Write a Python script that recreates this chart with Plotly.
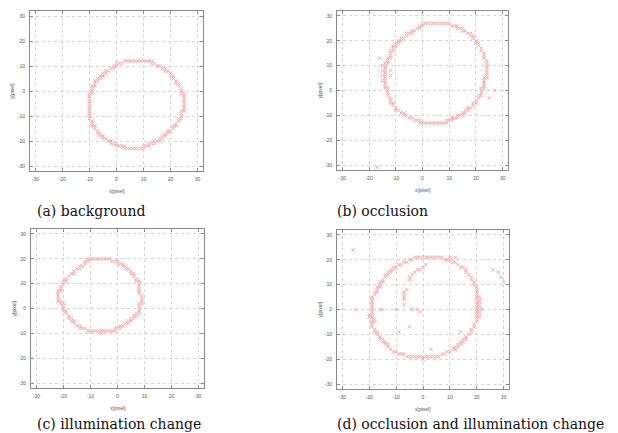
import plotly.graph_objects as go

# ---------------- data (integer pixel coordinates) ----------------
tick_values = [-30, -20, -10, 0, 10, 20, 30]
tick_labels = ["-30", "-20", "-10", "0", "10", "20", "30"]
captions = ["(a) background", "(b) occlusion", "(c) illumination change",
            "(d) occlusion and illumination change"]
x_title = "x[pixel]"
y_title = "y[pixel]"

points_a = [
    (0, 11), (1, 11), (2, 11), (3, 12), (4, 12), (5, 12), (6, 12), (7, 12), (8, 12), (9, 12), (10, 12),
    (11, 12), (12, 12), (13, 12), (13, 11), (14, 11), (15, 10), (16, 10), (17, 9), (18, 9), (18, 8),
    (19, 8), (20, 7), (20, 6), (21, 6), (21, 5), (22, 4), (22, 3), (23, 3), (23, 2), (24, 1), (24, 0),
    (24, -1), (25, -1), (25, -2), (25, -3), (25, -4), (25, -5), (25, -6), (25, -7), (25, -8), (24, -8),
    (24, -9), (24, -10), (24, -11), (23, -11), (23, -12), (22, -13), (22, -14), (21, -14), (21, -15),
    (20, -16), (19, -16), (19, -17), (18, -17), (18, -18), (17, -18), (17, -19), (16, -19), (16, -20),
    (15, -20), (14, -20), (14, -21), (13, -21), (12, -21), (12, -22), (11, -22), (10, -22), (10, -23),
    (9, -23), (8, -23), (7, -23), (6, -23), (5, -23), (4, -23), (3, -23), (3, -22), (2, -22), (1, -22),
    (0, -22), (0, -21), (-1, -21), (-2, -21), (-2, -20), (-3, -20), (-4, -19), (-5, -19), (-5, -18),
    (-6, -18), (-6, -17), (-7, -17), (-7, -16), (-8, -15), (-8, -14), (-9, -14), (-9, -13), (-9, -12),
    (-10, -11), (-10, -10), (-10, -9), (-10, -8), (-10, -7), (-10, -6), (-10, -5), (-10, -4), (-10, -3),
    (-10, -2), (-10, -1), (-9, -1), (-9, 0), (-9, 1), (-9, 2), (-8, 2), (-8, 3), (-8, 4), (-7, 4),
    (-7, 5), (-6, 5), (-6, 6), (-5, 6), (-5, 7), (-4, 7), (-4, 8), (-3, 8), (-2, 9), (-1, 9), (-1, 10),
    (0, 10),
]

points_b = [
    (0, 27), (1, 27), (2, 27), (3, 27), (4, 27), (5, 27), (6, 27), (7, 27), (8, 27), (9, 27), (10, 27),
    (11, 26), (12, 26), (13, 26), (13, 25), (14, 25), (15, 25), (15, 24), (16, 24), (17, 23), (18, 23),
    (18, 22), (19, 22), (19, 21), (20, 20), (20, 19), (21, 19), (21, 18), (22, 17), (22, 16), (23, 15),
    (23, 14), (23, 13), (24, 12), (24, 11), (24, 10), (24, 9), (24, 8), (24, 7), (24, 6), (24, 5),
    (23, 5), (23, 4), (23, 3), (23, 2), (23, 1), (22, 1), (22, 0), (22, -1), (22, -2), (21, -2),
    (21, -3), (20, -4), (20, -5), (19, -5), (19, -6), (18, -7), (17, -7), (17, -8), (16, -8), (16, -9),
    (15, -9), (15, -10), (14, -10), (13, -10), (13, -11), (12, -11), (11, -11), (11, -12), (10, -12),
    (9, -12), (9, -13), (8, -13), (7, -13), (6, -13), (5, -13), (4, -13), (3, -13), (2, -13), (1, -13),
    (0, -13), (-1, -13), (-1, -12), (-2, -12), (-3, -12), (-4, -11), (-5, -11), (-6, -10), (-7, -10),
    (-7, -9), (-8, -9), (-9, -8), (-10, -8), (-10, -7), (-11, -6), (-11, -5), (-12, -5), (-12, -4),
    (-12, -3), (-13, -2), (-13, -1), (-13, 0), (-13, 1), (-14, 1), (-14, 2), (-14, 3), (-14, 4),
    (-14, 5), (-14, 6), (-14, 7), (-14, 8), (-14, 9), (-14, 10), (-14, 11), (-13, 11), (-13, 12),
    (-13, 13), (-12, 13), (-12, 14), (-12, 15), (-12, 16), (-11, 16), (-11, 17), (-11, 18), (-10, 18),
    (-10, 19), (-9, 19), (-9, 20), (-8, 20), (-8, 21), (-7, 21), (-6, 22), (-6, 23), (-5, 23), (-4, 23),
    (-4, 24), (-3, 24), (-2, 25), (-1, 25), (-1, 26), (0, 26),
    # stray detections
    (-16, 13), (-15, 10), (-15, 8), (-15, 6), (-15, 4), (-12, 8), (-12, 6), (27, 0), (25, -3), (-17, -31),
]

points_c = [
    (-10, 20), (-9, 20), (-8, 20), (-7, 20), (-6, 20), (-5, 20), (-4, 20), (-3, 20), (-2, 19), (-1, 19),
    (0, 19), (0, 18), (1, 18), (2, 18), (2, 17), (3, 17), (3, 16), (4, 16), (5, 15), (5, 14), (6, 14),
    (6, 13), (7, 12), (7, 11), (8, 11), (8, 10), (8, 9), (8, 8), (8, 7), (8, 6), (9, 5), (9, 4), (9, 3),
    (9, 2), (8, 2), (8, 1), (8, 0), (8, -1), (8, -2), (7, -2), (7, -3), (6, -3), (6, -4), (5, -4),
    (5, -5), (4, -5), (4, -6), (3, -6), (2, -7), (1, -7), (1, -8), (0, -8), (-1, -8), (-1, -9), (-2, -9),
    (-3, -9), (-4, -9), (-5, -9), (-6, -9), (-6, -10), (-7, -9), (-8, -9), (-9, -9), (-10, -9),
    (-11, -9), (-12, -8), (-13, -8), (-14, -8), (-14, -7), (-15, -7), (-16, -6), (-16, -5), (-17, -5),
    (-17, -4), (-18, -4), (-18, -3), (-19, -2), (-19, -1), (-20, -1), (-20, 0), (-20, 1), (-20, 2),
    (-21, 2), (-21, 3), (-22, 3), (-22, 4), (-22, 5), (-22, 6), (-22, 7), (-21, 7), (-21, 8), (-21, 9),
    (-20, 10), (-20, 11), (-19, 11), (-19, 12), (-18, 13), (-17, 14), (-16, 14), (-16, 15), (-15, 16),
    (-14, 16), (-14, 17), (-13, 17), (-12, 18), (-12, 19), (-11, 19), (-11, 20),
]

points_d = [
    (-3, 21), (-2, 21), (-1, 21), (0, 21), (1, 21), (2, 21), (3, 21), (4, 21), (5, 21), (6, 21), (7, 21),
    (10, 21), (12, 21), (8, 20), (9, 20), (10, 20), (11, 19), (12, 19), (13, 18), (14, 17), (15, 17),
    (16, 16), (16, 15), (17, 14), (18, 13), (18, 12), (19, 11), (19, 10), (20, 9), (20, 8), (20, 7),
    (20, 6), (20, 5), (20, 4), (20, 3), (20, 2), (20, 1), (20, 0), (20, -1), (20, -2), (20, -3), (20, -4),
    (20, -5), (21, 5), (21, 4), (21, 3), (21, 2), (21, 1), (21, 0), (21, -1), (21, -2), (21, -3),
    (22, 0), (19, -6), (19, -7), (18, -8), (18, -9), (17, -10), (16, -11), (16, -12), (15, -12),
    (15, -13), (14, -13), (14, -14), (13, -14), (13, -15), (12, -15), (12, -16), (11, -16), (10, -17),
    (9, -17), (8, -18), (7, -18), (6, -19), (5, -19), (4, -19), (3, -19), (2, -19), (1, -19), (0, -19),
    (-1, -19), (-2, -19), (-3, -19), (-4, -19), (-5, -19), (-6, -19), (0, -20), (-7, -18), (-8, -18),
    (-9, -18), (-10, -17), (-11, -17), (-12, -16), (-13, -15), (-13, -14), (-14, -14), (-14, -13),
    (-15, -13), (-15, -12), (-16, -12), (-16, -11), (-17, -10), (-17, -9), (-18, -9), (-18, -8),
    (-19, -7), (-19, -6), (-19, -5), (-19, -4), (-19, -3), (-19, -2), (-19, -1), (-19, 0), (-19, 1),
    (-19, 2), (-19, 3), (-19, 4), (-19, 5), (-20, -2), (-20, -3), (-18, -5), (-18, -4), (-18, 6),
    (-18, 7), (-17, 7), (-17, 8), (-17, 9), (-16, 9), (-16, 10), (-16, 11), (-15, 11), (-15, 12),
    (-14, 13), (-14, 14), (-13, 14), (-13, 15), (-12, 15), (-12, 16), (-11, 16), (-11, 17), (-10, 17),
    (-9, 18), (-8, 18), (-7, 19), (-6, 19), (-5, 20), (-4, 20),
    # inner arc and stray detections
    (1, 18), (0, 17), (-1, 16), (-2, 16), (-3, 15), (-4, 14), (-5, 13), (-5, 12), (-6, 8), (-7, 7),
    (-7, 6), (-7, 5), (-7, 4), (-7, 2), (-26, 24), (-25, 0), (-16, 0), (-15, 0), (-10, 0), (-4, 0),
    (-2, 0), (-1, -1), (-9, -9), (-5, -7), (14, -9), (3, -16), (26, 16), (28, 15), (29, 13), (30, 11),
]

all_points = [points_a, points_b, points_c, points_d]

# ---------------- layout (pixel frames of each panel as seen in the window) ----------------
W, H = 618, 433
OFF = 8  # page body margin of the browser
frames = [  # left, right, top, bottom in window px
    (30, 203, 11, 171),
    (337, 508, 11, 170),
    (31, 204, 229, 388),
    (337, 509, 230, 389),
]
caption_pos = [(35, 211), (335, 211), (35, 424), (335, 424)]

fig = go.Figure()
marker_color = "#f5aaaa"
grid_color = "#d4d4d4"
frame_color = "#8a8a8a"
tick_font = dict(family="Liberation Sans, Arial", size=5, color="#555")

for i, pts in enumerate(all_points):
    n = "" if i == 0 else str(i + 1)
    xs = [p[0] for p in pts]
    ys = [p[1] for p in pts]
    fig.add_trace(go.Scatter(
        x=xs, y=ys, mode="markers", xaxis="x" + n, yaxis="y" + n,
        marker=dict(symbol="x-thin", size=3.5, line=dict(width=1, color=marker_color), color=marker_color),
        showlegend=False, hoverinfo="skip",
    ))
    l, r, t, b = [v - OFF for v in frames[i]]
    ax = dict(
        domain=[l / W, r / W], range=[-32, 32], tickvals=tick_values, ticktext=tick_labels,
        showgrid=True, gridcolor=grid_color, griddash="dot", gridwidth=1, zeroline=False,
        showline=True, linecolor=frame_color, linewidth=1, mirror="ticks",
        ticks="inside", ticklen=3, tickcolor=frame_color, tickfont=tick_font,
        fixedrange=True, ticklabelstandoff=3,
    )
    ay = dict(ax)
    ay["domain"] = [1 - b / H, 1 - t / H]
    fig.layout["xaxis" + n] = dict(ax, anchor="y" + n)
    fig.layout["yaxis" + n] = dict(ay, anchor="x" + n)

    # axis titles
    fig.add_annotation(x=(l + r) / 2 / W, y=1 - (b + 20) / H, xref="paper", yref="paper",
                       text=x_title, showarrow=False, font=tick_font, xanchor="center", yanchor="middle")
    fig.add_annotation(x=(l - 18) / W, y=1 - (t + b) / 2 / H, xref="paper", yref="paper",
                       text=y_title, showarrow=False, font=tick_font, textangle=-90,
                       xanchor="center", yanchor="middle")
    cx, cy = caption_pos[i]
    fig.add_annotation(x=(cx - OFF) / W, y=1 - (cy - OFF) / H, xref="paper", yref="paper",
                       text=captions[i], showarrow=False, xanchor="left", yanchor="middle",
                       font=dict(family="DejaVu Serif", size=14, color="#111"))

fig.update_layout(width=W, height=H, margin=dict(l=0, r=0, t=0, b=0),
                  paper_bgcolor="white", plot_bgcolor="white")
fig.write_html("out.html")
